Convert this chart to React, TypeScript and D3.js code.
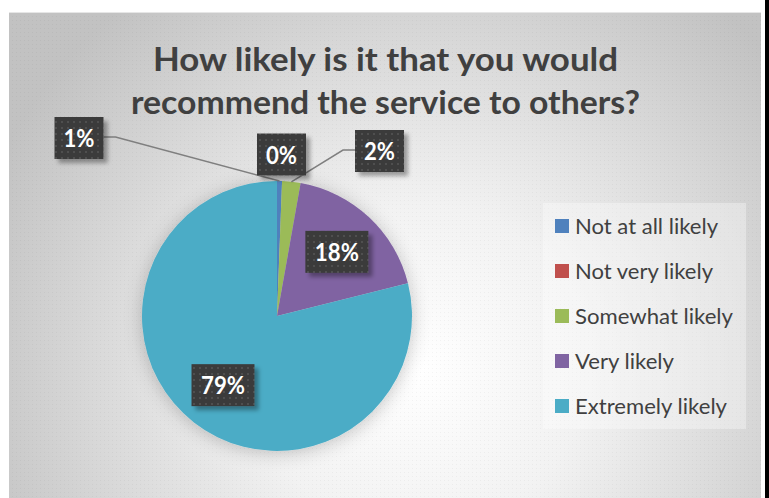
import React from "react";
import * as d3 from "d3";

const categories = ["Not at all likely", "Not very likely", "Somewhat likely", "Very likely", "Extremely likely"];
const values = [0.6, 0, 2.2, 18.3, 78.9];
const colors = ["#4f81bd", "#c0504d", "#9bbb59", "#8064a2", "#4bacc6"];
const titleLines = ["How likely is it that you would", "recommend the service to others?"];

const W = 769;
const H = 498;
const cx = 277;
const cy = 316;
const R = 135;

// manual label placements for thin slices (offset from pie centre), null => centroid
const labelOffsets: ([number, number] | null)[] = [[-198, -178], [4.5, -161.5], [102.5, -165], null, null];
const legendWidths = [143, 138, 158, 99, 152];
const titleWidths = [465, 509];

export default function App() {
  const pie = d3.pie<number>().sort(null).value((d) => d)(values);
  const arc = d3.arc<d3.PieArcDatum<number>>().innerRadius(0).outerRadius(R);
  const labelArc = d3.arc<d3.PieArcDatum<number>>().innerRadius(R * 0.65).outerRadius(R * 0.65);
  const edgeArc = d3.arc<d3.PieArcDatum<number>>().innerRadius(R).outerRadius(R);
  const legendY = d3.scalePoint<string>().domain(categories).range([226, 406]);

  return (
    <svg width={W} height={H} style={{ position: "absolute", left: 0, top: 0 }} fontFamily="Lato, 'Open Sans', sans-serif">
      <defs>
        <radialGradient id="bg" gradientUnits="userSpaceOnUse" cx={420} cy={370} r={470}>
          <stop offset="0" stopColor="#ffffff" />
          <stop offset="0.35" stopColor="#f2f2f2" />
          <stop offset="1" stopColor="#c2c2c2" />
        </radialGradient>
        <pattern id="lbl" width={6} height={6} patternUnits="userSpaceOnUse">
          <rect width={6} height={6} fill="#3b3b3b" />
          <rect x={1} y={1} width={2} height={2} fill="#505050" />
        </pattern>
        <pattern id="tex" width={4} height={4} patternUnits="userSpaceOnUse">
          <rect x={0} y={0} width={1} height={1} fill="#000" opacity={0.04} />
        </pattern>
        <filter id="pieShadow" x="-20%" y="-20%" width="140%" height="140%">
          <feDropShadow dx={0} dy={2} stdDeviation={9} floodColor="#000" floodOpacity={0.22} />
        </filter>
        <filter id="boxShadow" x="-20%" y="-20%" width="150%" height="150%">
          <feDropShadow dx={4} dy={4} stdDeviation={2} floodColor="#000" floodOpacity={0.35} />
        </filter>
      </defs>
      <rect x={0} y={0} width={W} height={H} fill="#ffffff" />
      <rect x={9} y={12} width={752} height={H - 12} fill="url(#bg)" />
      <rect x={9} y={12} width={752} height={H - 12} fill="url(#tex)" />
      <line x1={9} y1={12.5} x2={761} y2={12.5} stroke="#e6e6e6" strokeWidth={1} />
      <rect x={765} y={0} width={4} height={H} fill="#000" />

      {titleLines.map((t, i) => (
        <text key={i} x={385.5} y={71 + i * 43} textAnchor="middle" fontSize={33} fontWeight={700} fill="#404040"
          textLength={titleWidths[i]} lengthAdjust="spacingAndGlyphs">{t}</text>
      ))}

      <g filter="url(#pieShadow)">
        {pie.map((p, i) => (
          <path key={i} d={arc(p) || ""} transform={`translate(${cx},${cy})`} fill={colors[i]} />
        ))}
      </g>

      {pie.map((p, i) => {
        const off = labelOffsets[i];
        if (!off) return null;
        const [ex, ey] = edgeArc.centroid(p);
        const lx = cx + off[0];
        const ly = cy + off[1];
        if (i === 1) return null;
        const side = off[0] < 0 ? 1 : -1;
        const bx = lx + side * 24.5;
        const kx = bx + side * 12;
        return (
          <polyline key={i} points={`${bx},${ly - 1} ${kx},${ly - 1} ${cx + ex},${cy + ey}`} fill="none" stroke="#7f7f7f" strokeWidth={1.5} />
        );
      })}

      {pie.map((p, i) => {
        const off = labelOffsets[i];
        const [lx, ly] = off ? [cx + off[0], cy + off[1]] : (() => { const c = labelArc.centroid(p); return [cx + c[0], cy + c[1]]; })();
        const txt = `${Math.round(values[i])}%`;
        const bw = txt.length > 2 ? 63 : 49;
        const bh = 42;
        return (
          <g key={i}>
            <rect x={lx - bw / 2} y={ly - bh / 2} width={bw} height={bh} fill="url(#lbl)" filter="url(#boxShadow)" />
            <text x={lx} y={ly + 9} textAnchor="middle" fontSize={25} fontWeight={700} fill="#ffffff"
              textLength={txt.length > 2 ? 44 : 31} lengthAdjust="spacingAndGlyphs">{txt}</text>
          </g>
        );
      })}

      <rect x={543} y={203} width={203} height={226} fill="#ffffff" opacity={0.35} />
      {categories.map((c, i) => {
        const y = legendY(c) as number;
        return (
          <g key={c}>
            <rect x={555} y={y - 7} width={14} height={14} fill={colors[i]} />
            <text x={575} y={y + 7.5} fontSize={21} fill="#404040" textLength={legendWidths[i]} lengthAdjust="spacingAndGlyphs">{c}</text>
          </g>
        );
      })}
    </svg>
  );
}
